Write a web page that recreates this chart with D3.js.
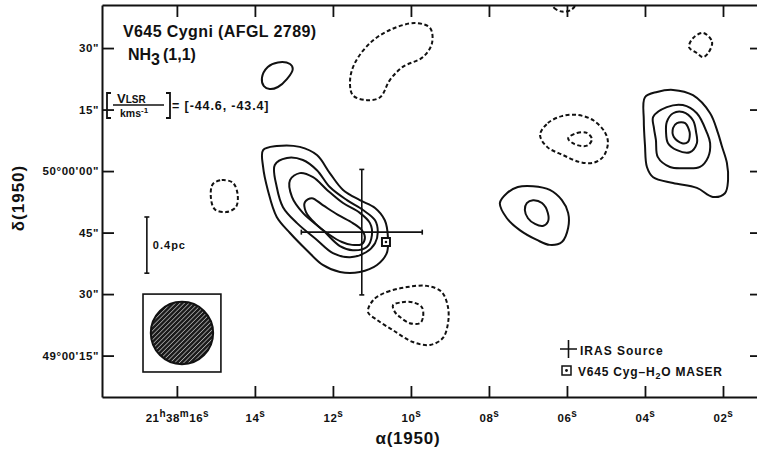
<!DOCTYPE html>
<html>
<head>
<meta charset="utf-8">
<script src="https://cdn.jsdelivr.net/npm/d3@7"></script>
<style>
  body { margin: 0; background: #fff; }
  text { font-family: "Liberation Sans", Arial, sans-serif; font-weight: bold; fill: #111; }
</style>
</head>
<body>
<div id="map"></div>
<script>
// Ejes: ascension recta (s de 21h38m) y declinacion (" respecto a 50°00'00")
var raTicks = [16, 14, 12, 10, 8, 6, 4, 2];
var raLabels = ["21h38m16s", "14s", "12s", "10s", "08s", "06s", "04s", "02s"];
var decTicks = [30, 15, 0, -15, -30, -45];
var decLabels = ["30\"", "15\"", "50°00'00\"", "45\"", "30\"", "49°00'15\""];

// Contornos positivos (linea continua), [ra s, dec "]
var main1 = [[13.79,5.1],[13.44,6.1],[12.85,5.9],[12.41,3.9],[12.08,-0.5],[11.74,-4.6],[11.31,-7.1],[10.92,-9.0],[10.67,-12.0],[10.59,-16.1],[10.62,-20.0],[10.87,-22.9],[11.31,-24.6],[11.82,-24.6],[12.26,-22.9],[12.67,-19.3],[13.10,-15.1],[13.44,-11.2],[13.67,-4.6],[13.79,1.0]];
var main2 = [[13.49,1.5],[13.18,3.2],[12.77,2.7],[12.41,0.2],[12.08,-3.9],[11.64,-7.1],[11.23,-9.5],[10.92,-12.0],[10.85,-14.9],[10.92,-17.6],[11.15,-19.8],[11.56,-21.0],[12.00,-20.0],[12.41,-16.8],[12.92,-12.7],[13.28,-8.8],[13.44,-3.9]];
var main3 = [[13.10,-2.2],[12.85,-0.5],[12.51,-1.5],[12.15,-4.6],[11.74,-7.8],[11.31,-10.2],[11.05,-12.7],[11.00,-15.6],[11.13,-18.5],[11.49,-19.3],[11.82,-18.3],[12.26,-14.4],[12.77,-10.2],[13.05,-6.3]];
var main4 = [[12.72,-7.6],[12.54,-6.6],[12.26,-8.3],[11.87,-10.7],[11.49,-12.7],[11.26,-14.4],[11.18,-16.3],[11.26,-17.8],[11.51,-18.0],[11.77,-17.3],[12.08,-15.6],[12.46,-12.7],[12.69,-10.0]];
var small1 = [[13.82,22.7],[13.67,25.4],[13.41,26.5],[13.10,26.1],[13.03,24.9],[13.18,22.4],[13.41,20.5],[13.62,20.0],[13.77,20.7]];
var mid1 = [[7.72,-7.8],[7.54,-5.4],[7.26,-3.9],[6.87,-3.7],[6.44,-4.6],[6.13,-7.1],[5.97,-10.2],[5.97,-13.9],[6.13,-17.3],[6.44,-18.0],[6.77,-16.8],[7.21,-14.4],[7.54,-11.5]];
var mid2 = [[7.03,-7.8],[6.87,-7.1],[6.64,-7.8],[6.49,-10.2],[6.49,-12.4],[6.62,-13.4],[6.82,-12.9],[7.00,-11.5],[7.08,-9.5]];
var east1 = [[4.00,18.0],[3.69,19.3],[3.28,19.8],[2.77,18.5],[2.33,14.1],[2.13,9.3],[2.03,6.1],[1.90,2.0],[1.87,-2.2],[1.95,-5.4],[2.26,-6.3],[2.67,-4.1],[3.28,-2.9],[3.79,-1.5],[3.95,1.0],[4.00,6.3],[4.03,12.4]];
var east2 = [[3.79,13.2],[3.44,15.6],[3.03,16.1],[2.67,14.1],[2.41,9.3],[2.33,6.8],[2.38,3.4],[2.59,1.0],[3.00,0.7],[3.36,1.0],[3.67,3.4],[3.72,7.6],[3.77,10.5]];
var east3 = [[3.44,12.0],[3.28,14.1],[3.03,14.4],[2.77,12.4],[2.69,9.5],[2.67,6.8],[2.85,4.6],[3.18,5.1],[3.41,6.8],[3.46,9.5]];
var east4 = [[3.28,10.5],[3.18,11.7],[2.97,11.7],[2.87,10.0],[2.85,9.0],[2.90,7.1],[3.05,6.8],[3.26,8.3]];

// Contornos negativos (linea discontinua)
var negWest = [[15.08,-3.2],[14.85,-2.2],[14.56,-2.9],[14.44,-5.9],[14.49,-8.8],[14.74,-10.0],[15.03,-9.3],[15.13,-6.3]];
var negNorth = [[9.90,36.1],[9.51,34.9],[9.46,31.2],[9.69,27.8],[10.21,25.4],[10.54,22.2],[10.79,18.0],[11.13,17.3],[11.49,18.5],[11.56,22.2],[11.44,26.3],[11.05,31.2],[10.54,34.4]];
var negTop = [[6.38,41.2],[6.33,39.8],[6.13,38.9],[5.90,39.3],[5.79,40.5],[5.92,42.2],[6.18,42.4]];
var negNE = [[2.51,33.7],[2.28,31.5],[2.38,28.8],[2.51,27.8],[2.67,28.8],[2.87,30.2],[2.77,32.4]];
var negMid1 = [[6.69,8.8],[6.49,11.7],[6.13,13.4],[5.74,13.7],[5.33,12.4],[5.03,9.5],[4.95,6.8],[5.08,3.4],[5.33,2.0],[5.67,2.2],[6.10,3.9],[6.51,5.9]];
var negMid2 = [[5.97,8.0],[5.74,9.3],[5.49,9.3],[5.36,7.8],[5.46,6.3],[5.62,6.1],[5.85,6.8]];
var negSouth1 = [[10.97,-31.5],[10.62,-29.5],[10.10,-28.3],[9.59,-28.0],[9.21,-29.5],[9.05,-33.2],[9.05,-37.1],[9.18,-40.7],[9.51,-42.4],[9.95,-41.7],[10.46,-38.8],[10.87,-36.3],[11.10,-34.4]];
var negSouth2 = [[10.46,-32.7],[10.23,-32.0],[9.95,-32.0],[9.72,-33.2],[9.69,-35.6],[9.77,-37.1],[10.03,-37.1],[10.28,-35.6],[10.41,-34.4]];

var positive = [main1, main2, main3, main4, small1, mid1, mid2, east1, east2, east3, east4];
var negative = [negWest, negNorth, negTop, negNE, negMid1, negMid2, negSouth1, negSouth2];

// Fuente IRAS (posicion y error) y maser H2O
var iras = [11.26, -14.9];
var irasErr = [1.55, 15.3];
var maser = [10.64, -17.3];

// Haz y escala
var beamCenter = [15.87, -39.5];
var beamRadius = 7.6;      // arcsec
var beamBox = 9.5;         // semilado, arcsec
var scaleBar = [16.77, -11.2, -24.9];

// Dimensiones
var margin = { top: 5, right: 0, bottom: 53, left: 102 },
  width = 660,
  height = 392;

var svg = d3.select("#map")
  .append("svg")
  .attr("width", 757)
  .attr("height", 450)
  .append("g")
  .attr("transform", "translate(" + margin.left + "," + margin.top + ")");

var x = d3.scaleLinear().domain([17.92, 1.0]).range([0, width]);
var y = d3.scaleLinear().domain([-55.1, 40.5]).range([height, 0]);

var defs = svg.append("defs");
defs.append("clipPath").attr("id", "clip")
  .append("rect").attr("width", width).attr("height", height);

var pat = defs.append("pattern").attr("id", "hatch")
  .attr("patternUnits", "userSpaceOnUse")
  .attr("width", 3.2).attr("height", 3.2)
  .attr("patternTransform", "rotate(45)");
pat.append("rect").attr("width", 3.2).attr("height", 3.2).attr("fill", "#1a1a1a");
pat.append("line").attr("x1", 0).attr("y1", 0).attr("x2", 0).attr("y2", 3.2)
  .attr("stroke", "#fff").attr("stroke-width", 1);

// Ejes
var bottomAxis = svg.append("g")
  .attr("transform", "translate(0," + height + ")")
  .call(d3.axisBottom(x).tickValues(raTicks).tickSizeInner(-11).tickSizeOuter(0).tickPadding(9).tickFormat(""));
svg.append("g")
  .call(d3.axisTop(x).tickValues(raTicks).tickSizeInner(-12).tickSizeOuter(0).tickFormat(""));
svg.append("g")
  .call(d3.axisLeft(y).tickValues(decTicks).tickSizeInner(-12).tickSizeOuter(0).tickPadding(3)
    .tickFormat(function(d, i) { return decLabels[i]; }));
svg.append("g")
  .attr("transform", "translate(" + width + ",0)")
  .call(d3.axisRight(y).tickValues(decTicks).tickSizeInner(-12).tickSizeOuter(0).tickFormat(""));

svg.selectAll(".domain").attr("stroke", "#111").attr("stroke-width", 2);
svg.selectAll(".tick line").attr("stroke", "#111").attr("stroke-width", 1.8);
svg.selectAll(".tick text")
  .style("font-family", "'Liberation Sans', Arial, sans-serif")
  .style("font-weight", "bold")
  .style("font-size", "11.5px")
  .style("letter-spacing", "0.6px")
  .attr("fill", "#111");

// Etiquetas RA con superindices
bottomAxis.selectAll(".tick").each(function(d, i) {
  var t = d3.select(this).append("text")
    .attr("y", 20)
    .attr("text-anchor", "middle")
    .style("font-size", "11.5px")
    .style("letter-spacing", "0.5px");
  var parts = raLabels[i].match(/\d+|[a-z]/g);
  parts.forEach(function(p) {
    var sup = /[a-z]/.test(p);
    t.append("tspan")
      .attr("dy", sup ? -5 : (t.selectAll("tspan").size() ? 5 : 0))
      .style("font-size", sup ? "10px" : "11.5px")
      .text(p);
  });
});

// Titulos de ejes
svg.append("text")
  .attr("x", 408).attr("y", 444)
  .attr("transform", "translate(" + (-margin.left) + "," + (-margin.top) + ")")
  .attr("text-anchor", "middle")
  .style("font-size", "17px").style("letter-spacing", "0.8px")
  .text("α(1950)");
svg.append("text")
  .attr("transform", "translate(" + (24 - margin.left) + "," + (198 - margin.top) + ") rotate(-90)")
  .attr("text-anchor", "middle")
  .style("font-size", "17px").style("letter-spacing", "1px")
  .text("δ(1950)");

// Contornos
var line = d3.line()
  .x(function(d) { return x(d[0]); })
  .y(function(d) { return y(d[1]); })
  .curve(d3.curveCatmullRomClosed.alpha(0.5));

var plot = svg.append("g").attr("clip-path", "url(#clip)");

plot.selectAll(".pos")
  .data(positive)
  .enter().append("path")
  .attr("class", "pos")
  .attr("d", line)
  .attr("fill", "none")
  .attr("stroke", "#111")
  .attr("stroke-width", 2);

plot.selectAll(".neg")
  .data(negative)
  .enter().append("path")
  .attr("class", "neg")
  .attr("d", line)
  .attr("fill", "none")
  .attr("stroke", "#111")
  .attr("stroke-width", 2)
  .attr("stroke-dasharray", "4,2.5");

// Cruz IRAS
var cross = svg.append("g").attr("stroke", "#111").attr("stroke-width", 1.6);
cross.append("line")
  .attr("x1", x(iras[0] + irasErr[0])).attr("x2", x(iras[0] - irasErr[0]))
  .attr("y1", y(iras[1])).attr("y2", y(iras[1]));
cross.append("line")
  .attr("x1", x(iras[0])).attr("x2", x(iras[0]))
  .attr("y1", y(iras[1] + irasErr[1])).attr("y2", y(iras[1] - irasErr[1]));
[iras[0] + irasErr[0], iras[0] - irasErr[0]].forEach(function(r) {
  cross.append("line").attr("x1", x(r)).attr("x2", x(r))
    .attr("y1", y(iras[1]) - 2.5).attr("y2", y(iras[1]) + 2.5);
});
[iras[1] + irasErr[1], iras[1] - irasErr[1]].forEach(function(dd) {
  cross.append("line").attr("y1", y(dd)).attr("y2", y(dd))
    .attr("x1", x(iras[0]) - 2.5).attr("x2", x(iras[0]) + 2.5);
});

// Maser
svg.append("rect")
  .attr("x", x(maser[0]) - 4).attr("y", y(maser[1]) - 4)
  .attr("width", 8).attr("height", 8)
  .attr("fill", "#fff").attr("stroke", "#111").attr("stroke-width", 2);
svg.append("circle")
  .attr("cx", x(maser[0])).attr("cy", y(maser[1])).attr("r", 1.3).attr("fill", "#111");

// Barra de escala
var sb = svg.append("g").attr("stroke", "#111").attr("stroke-width", 1.6);
sb.append("line").attr("x1", x(scaleBar[0])).attr("x2", x(scaleBar[0]))
  .attr("y1", y(scaleBar[1])).attr("y2", y(scaleBar[2]));
[scaleBar[1], scaleBar[2]].forEach(function(dd) {
  sb.append("line").attr("x1", x(scaleBar[0]) - 2.5).attr("x2", x(scaleBar[0]) + 2.5)
    .attr("y1", y(dd)).attr("y2", y(dd));
});
svg.append("text")
  .attr("x", x(scaleBar[0]) + 6).attr("y", y((scaleBar[1] + scaleBar[2]) / 2) + 4)
  .style("font-size", "11px").style("letter-spacing", "1px")
  .text("0.4pc");

// Haz
var bs = y(0) - y(beamBox);
svg.append("rect")
  .attr("x", x(beamCenter[0]) - bs).attr("y", y(beamCenter[1]) - bs)
  .attr("width", 2 * bs).attr("height", 2 * bs)
  .attr("fill", "none").attr("stroke", "#111").attr("stroke-width", 1.6);
svg.append("circle")
  .attr("cx", x(beamCenter[0])).attr("cy", y(beamCenter[1]))
  .attr("r", y(0) - y(beamRadius))
  .attr("fill", "url(#hatch)").attr("stroke", "#111").attr("stroke-width", 2);

// Textos
var ann = svg.append("g").attr("transform", "translate(" + (-margin.left) + "," + (-margin.top) + ")");
ann.append("text").attr("x", 123).attr("y", 37).style("font-size", "16px").style("letter-spacing", "0.4px")
  .text("V645 Cygni (AFGL 2789)");
var nh = ann.append("text").attr("x", 128).attr("y", 60).style("font-size", "16px");
nh.append("tspan").text("NH");
nh.append("tspan").attr("dy", 5).text("3");
nh.append("tspan").attr("dy", -5).attr("dx", 3).text("(1,1)");

// [VLSR / kms-1] = [...]
var fr = ann.append("g");
fr.append("path").attr("d", "M111,93 H107 V118 H111").attr("fill", "none").attr("stroke", "#111").attr("stroke-width", 1.8);
fr.append("path").attr("d", "M166,93 H170 V118 H166").attr("fill", "none").attr("stroke", "#111").attr("stroke-width", 1.8);
fr.append("line").attr("x1", 113).attr("x2", 164).attr("y1", 105).attr("y2", 105).attr("stroke", "#111").attr("stroke-width", 1.6);
var v = fr.append("text").attr("x", 117).attr("y", 103).style("font-size", "13px");
v.append("tspan").text("V");
v.append("tspan").style("font-size", "10px").text("LSR");
var k = fr.append("text").attr("x", 120).attr("y", 117).style("font-size", "10.5px");
k.append("tspan").text("kms");
k.append("tspan").attr("dy", -4).style("font-size", "8px").text("-1");
fr.append("text").attr("x", 172).attr("y", 110).style("font-size", "12.5px").style("letter-spacing", "0.9px")
  .text("= [-44.6, -43.4]");

// Leyenda
var lg = ann.append("g");
lg.append("path").attr("d", "M560,349 H577 M568.5,340 V358").attr("stroke", "#111").attr("stroke-width", 1.6);
lg.append("text").attr("x", 580).attr("y", 355).style("font-size", "12px").style("letter-spacing", "1px").text("IRAS  Source");
lg.append("rect").attr("x", 562).attr("y", 366).attr("width", 9).attr("height", 9)
  .attr("fill", "none").attr("stroke", "#111").attr("stroke-width", 1.5);
lg.append("circle").attr("cx", 566.5).attr("cy", 370.5).attr("r", 1.4).attr("fill", "#111");
var mt = lg.append("text").attr("x", 578).attr("y", 376).style("font-size", "12px").style("letter-spacing", "0.8px");
mt.append("tspan").text("V645 Cyg–H");
mt.append("tspan").attr("dy", 3).style("font-size", "9px").text("2");
mt.append("tspan").attr("dy", -3).text("O  MASER");
</script>
</body>
</html>
